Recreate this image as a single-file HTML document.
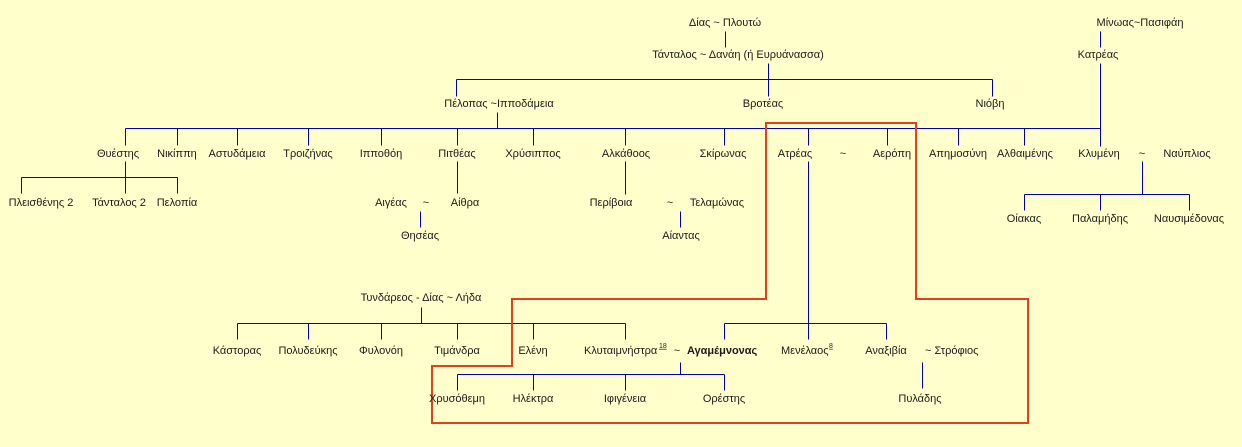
<!DOCTYPE html>
<html><head><meta charset="utf-8"><style>
html,body{margin:0;padding:0;background:#FFFFCC;}
svg{display:block}
text{font-family:"Liberation Sans","DejaVu Sans",sans-serif;font-size:11px;fill:#1a1a1a;dominant-baseline:middle}
</style></head><body>
<svg width="1242" height="447" viewBox="0 0 1242 447" xmlns="http://www.w3.org/2000/svg">
<rect width="1242" height="447" fill="#FFFFCC"/>
<g transform="translate(0.5,0.5)">
<g stroke="#0000B0" stroke-width="1" fill="none" shape-rendering="crispEdges">
<path d="M725 31V47"/>
<path d="M768 63V96M456 79H992M456 79V96M992 79V96"/>
<path d="M1100 31V47M1100 63V146"/>
<path d="M497 112V128M125 128H1100"/>
<path d="M125 128V145M177 128V145M237 128V145M308 128V145M381 128V145M457 128V145M533 128V145M625 128V145M724 128V145M808 128V145M887 128V145M958 128V145M1024 128V145"/>
<path d="M125 161V193M21 177H177M21 177V193M177 177V193"/>
<path d="M457 161V193M420 211V227"/>
<path d="M625 161V194M680 211V227"/>
<path d="M1142 161V194M1024 194H1189M1024 194V210M1100 194V210M1189 194V210"/>
<path d="M421 307V323M237 323H625M237 323V339M308 323V339M381 323V339M457 323V339M533 323V339M625 323V339"/>
<path d="M808 161V339M724 323H886M724 323V339M886 323V339"/>
<path d="M680 362V374M457 374H724M457 374V390M533 374V390M625 374V390M724 374V390"/>
<path d="M922 362V388"/>
</g>
</g>
<path d="M766 123H916V299H1028V423H432V366H512V299H766Z" stroke="#E2401E" stroke-width="2" fill="none"/>
<g text-anchor="middle">
<text x="725" y="23">Δίας ~ Πλουτώ</text>
<text x="738" y="55">Τάνταλος ~ Δανάη (ή Ευρυάνασσα)</text>
<text x="1140" y="23">Μίνωας~Πασιφάη</text>
<text x="1098" y="55">Κατρέας</text>
<text x="499" y="104">Πέλοπας ~Ιπποδάμεια</text>
<text x="763" y="104">Βροτέας</text>
<text x="990" y="104">Νιόβη</text>
<text x="118" y="154">Θυέστης</text>
<text x="177" y="154">Νικίππη</text>
<text x="237" y="154">Αστυδάμεια</text>
<text x="308" y="154">Τροιζήνας</text>
<text x="381" y="154">Ιπποθόη</text>
<text x="457" y="154">Πιτθέας</text>
<text x="533" y="154">Χρύσιππος</text>
<text x="626" y="154">Αλκάθοος</text>
<text x="723" y="154">Σκίρωνας</text>
<text x="795" y="154">Ατρέας</text>
<text x="843" y="154">~</text>
<text x="892" y="154">Αερόπη</text>
<text x="958" y="154">Απημοσύνη</text>
<text x="1025" y="154">Αλθαιμένης</text>
<text x="1099" y="154">Κλυμένη</text>
<text x="1142" y="154">~</text>
<text x="1187" y="154">Ναύπλιος</text>
<text x="41" y="203">Πλεισθένης 2</text>
<text x="119" y="203">Τάνταλος 2</text>
<text x="177" y="203">Πελοπία</text>
<text x="391" y="203">Αιγέας</text>
<text x="426" y="203">~</text>
<text x="465" y="203">Αίθρα</text>
<text x="611" y="203">Περίβοια</text>
<text x="670" y="203">~</text>
<text x="717" y="203">Τελαμώνας</text>
<text x="1024" y="219">Οίακας</text>
<text x="1100" y="219">Παλαμήδης</text>
<text x="1189" y="219">Ναυσιμέδονας</text>
<text x="420" y="236">Θησέας</text>
<text x="681" y="236">Αίαντας</text>
<text x="421" y="298">Τυνδάρεος - Δίας ~ Λήδα</text>
<text x="237" y="351">Κάστορας</text>
<text x="308" y="351">Πολυδεύκης</text>
<text x="381" y="351">Φυλονόη</text>
<text x="457" y="351">Τιμάνδρα</text>
<text x="533" y="351">Ελένη</text>
<text x="677" y="351">~</text>
<text x="886" y="351">Αναξιβία</text>
<text x="457" y="399">Χρυσόθεμη</text>
<text x="533" y="399">Ηλέκτρα</text>
<text x="625" y="399">Ιφιγένεια</text>
<text x="724" y="399">Ορέστης</text>
<text x="920" y="399">Πυλάδης</text>
</g>
<text x="584" y="351">Κλυταιμνήστρα</text>
<text x="659" y="346" style="font-size:7px;text-decoration:underline;fill:#223">18</text>
<text x="687" y="351" style="font-weight:bold">Αγαμέμνονας</text>
<text x="781" y="351">Μενέλαος</text>
<text x="829" y="346" style="font-size:7px;text-decoration:underline;fill:#223">8</text>
<text x="925" y="351">~ Στρόφιος</text>
</svg>
</body></html>
